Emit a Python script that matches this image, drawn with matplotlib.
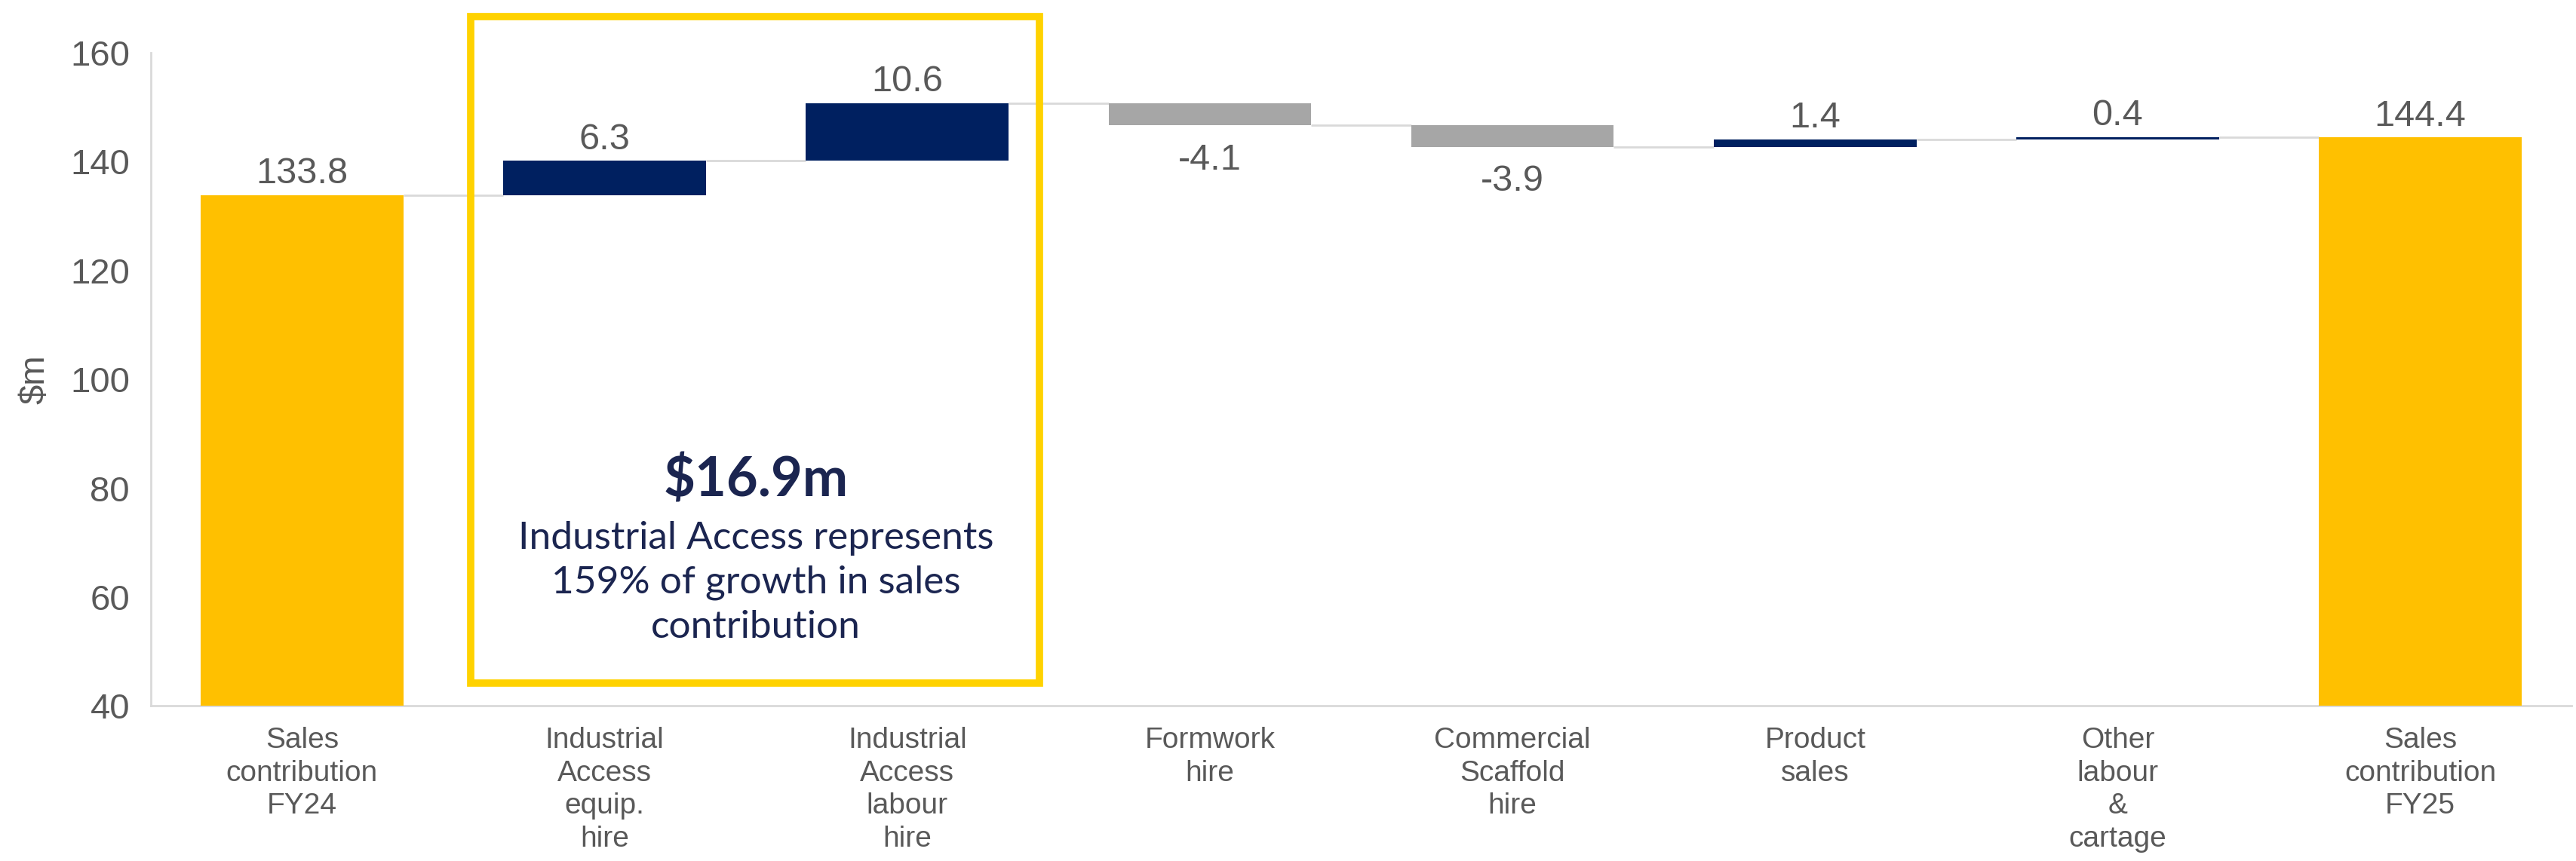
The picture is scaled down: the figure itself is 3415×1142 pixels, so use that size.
import numpy as np
import matplotlib
matplotlib.use("Agg")
import matplotlib.pyplot as plt
from matplotlib.patches import Rectangle

categories = ["Sales\ncontribution\nFY24", "Industrial\nAccess\nequip.\nhire",
              "Industrial\nAccess\nlabour\nhire", "Formwork\nhire",
              "Commercial\nScaffold\nhire", "Product\nsales",
              "Other\nlabour\n&\ncartage", "Sales\ncontribution\nFY25"]
start_total = 133.8
changes = [6.3, 10.6, -4.1, -3.9, 1.4, 0.4]
end_total = 144.4
value_labels = ["133.8", "6.3", "10.6", "-4.1", "-3.9", "1.4", "0.4", "144.4"]

YELLOW = "#FFC000"
NAVY = "#002060"
GREY = "#A6A6A6"
TEXT = "#595959"
LINE = "#D9D9D9"
BOX = "#FFD200"
NOTE = "#1B2550"

plt.rcParams['font.family'] = ['Liberation Sans', 'DejaVu Sans']

fig = plt.figure(figsize=(34.16, 11.42), dpi=100)
ax = fig.add_axes([0.0585, 0.180, 0.9395, 0.759])

x = np.arange(len(categories))
w = 0.67

# running totals
bottoms = [0]
heights = [start_total]
colors = [YELLOW]
ends = [start_total]
level = start_total
for c in changes:
    if c >= 0:
        bottoms.append(level)
        heights.append(c)
        colors.append(NAVY)
    else:
        bottoms.append(level + c)
        heights.append(-c)
        colors.append(GREY)
    level += c
    ends.append(level)
bottoms.append(0)
heights.append(end_total)
colors.append(YELLOW)
ends.append(end_total)

ax.bar(x, heights, bottom=bottoms, width=w, color=colors, zorder=3)

# connectors
for i in range(len(x) - 1):
    ax.plot([x[i] + w / 2, x[i + 1] - w / 2], [ends[i], ends[i]],
            color=LINE, lw=2, zorder=2, solid_capstyle='butt')

# value labels
vals = [start_total] + changes + [end_total]
for i, lab in enumerate(value_labels):
    top = bottoms[i] + heights[i]
    if vals[i] < 0:
        ax.text(x[i], bottoms[i] - 3.2, lab, ha='center', va='top',
                fontsize=35, color=TEXT)
    else:
        ax.text(x[i], top + 0.8, lab, ha='center', va='bottom',
                fontsize=35, color=TEXT)

ax.set_xlim(-0.5, len(categories) - 0.5)
ax.set_ylim(40, 160)
ax.set_yticks(np.arange(40, 161, 20))
ax.set_xticks(x)
ax.tick_params(axis='both', length=0)
ax.tick_params(axis='y', labelsize=34, labelcolor=TEXT, pad=20)
ax.tick_params(axis='x', pad=20)
ax.set_xticklabels(categories, fontsize=28, color=TEXT, linespacing=1.27, va='top')
ax.set_ylabel("$m", fontsize=34, color=TEXT, labelpad=18)
for s in ["top", "right"]:
    ax.spines[s].set_visible(False)
for s in ["left", "bottom"]:
    ax.spines[s].set_color(LINE)
    ax.spines[s].set_linewidth(2)

# highlight box
box = Rectangle((0.557, 44.2), 2.438 - 0.557, 166.6 - 44.2, fill=False,
                edgecolor=BOX, lw=7, clip_on=False, zorder=4)
ax.add_patch(box)
ax.text(1.5, 81.3, "$16.9m", ha='center', va='center', fontsize=52,
        fontweight='bold', color=NOTE, family=['Lato', 'DejaVu Sans'])
ax.text(1.5, 62.6, "Industrial Access represents\n159% of growth in sales\ncontribution",
        ha='center', va='center', fontsize=37, color=NOTE, linespacing=1.34,
        family=['Lato', 'DejaVu Sans'])

fig.savefig("out.png", dpi=100)
